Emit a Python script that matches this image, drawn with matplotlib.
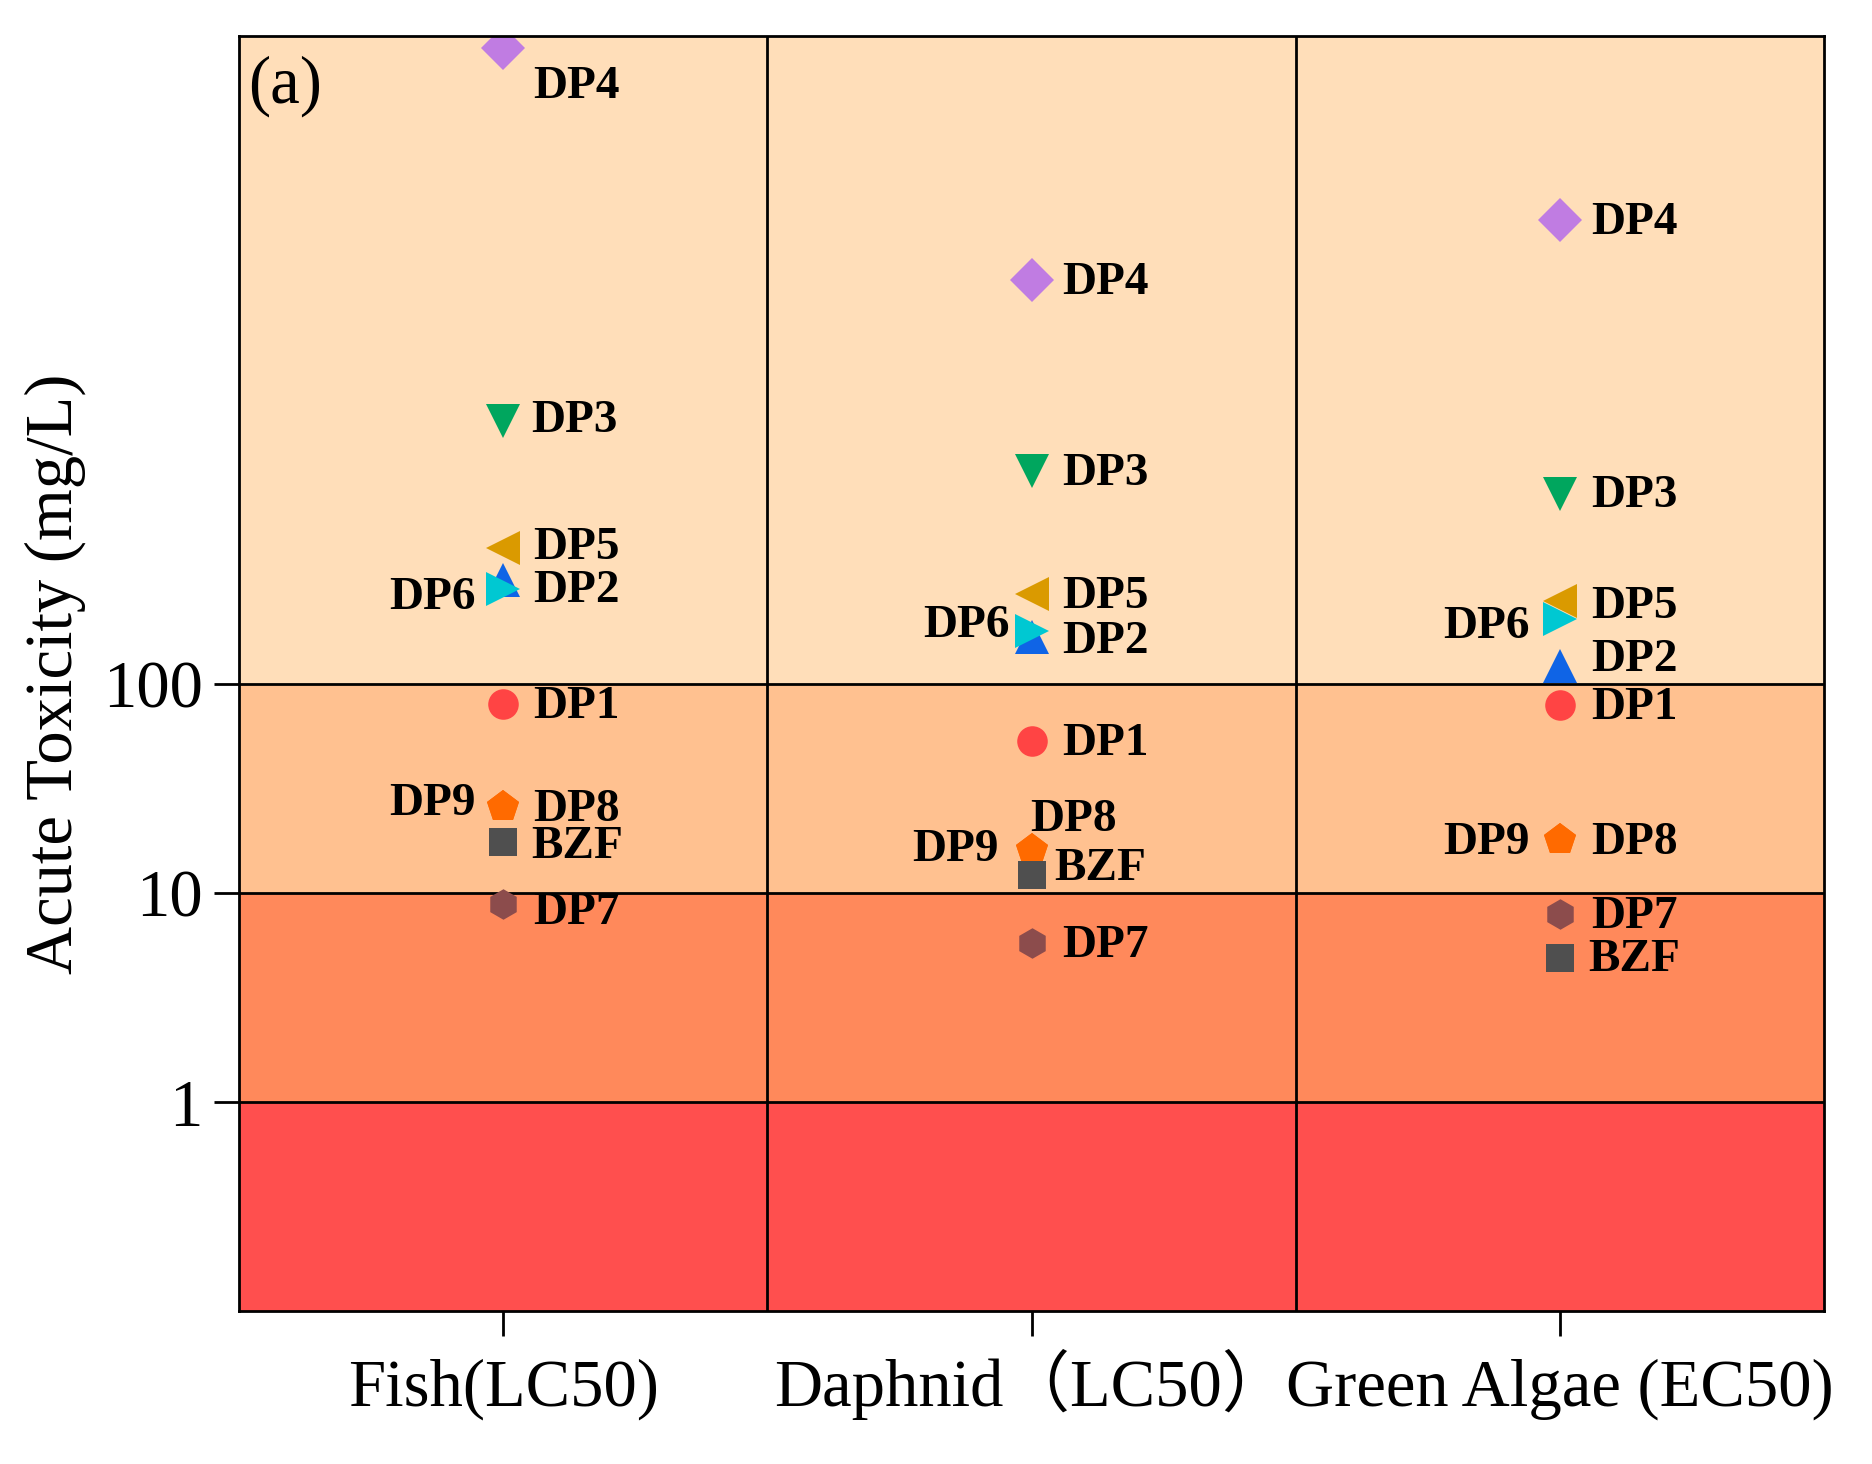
import numpy as np
import matplotlib.pyplot as plt

plt.rcParams['font.family'] = ['Liberation Serif', 'Noto Sans CJK SC', 'DejaVu Sans']

# --- data ---
categories = ['Fish(LC50)', 'Daphnid\uff08LC50\uff09', 'Green Algae (EC50)']
compounds = ['DP1', 'DP2', 'DP3', 'DP4', 'DP5', 'DP6', 'DP7', 'DP8', 'DP9', 'BZF']
# acute toxicity values (mg/L) for fish, daphnid, green algae
dp1 = [80, 53, 79]
dp2 = [314, 168, 122]
dp3 = [1800, 1040, 811]
dp4 = [110000, 8530, 16500]
dp5 = [448, 268, 248]
dp6 = [283, 178, 204]
dp7 = [8.8, 5.75, 7.9]
dp8 = [25.8, 16, 17.8]
dp9 = [25.8, 16, 17.8]
bzf = [17.6, 12.2, 4.9]
values = [dp1, dp2, dp3, dp4, dp5, dp6, dp7, dp8, dp9, bzf]

band_edges = [0.1, 1, 10, 100, 1.25e5]
band_colors = ['#FF4F4E', '#FF895B', '#FFC190', '#FFDEB9']

markers = ['o', '^', 'v', 'D', '<', '>', 'h', 'p', 'p', 's']
colors = ['#FF4444', '#0F64E6', '#00A65E', '#C07CE2', '#DA9A00',
          '#00C8D2', '#8C4C4C', '#FF6A00', '#FF6A00', '#4F4F4F']
sizes = [11, 12, 12, 11, 12, 12, 11, 12, 12, 10]

# label offsets in points: (dx, dy, ha); default to the right of the marker
label_offsets = {
    (0, 'DP4'): (11, -14, 'left'),
    (0, 'DP6'): (-10, -3, 'right'),
    (0, 'DP2'): (11, -4, 'left'),
    (0, 'DP5'): (11, 0, 'left'),
    (0, 'DP9'): (-10, 1, 'right'),
    (0, 'DP8'): (11, -1, 'left'),
    (0, 'BZF'): (10, -2, 'left'),
    (0, 'DP7'): (11, -3, 'left'),
    (0, 'DP3'): (10, 0, 'left'),
    (1, 'DP6'): (-8, 2, 'right'),
    (1, 'DP2'): (11, -2, 'left'),
    (1, 'DP8'): (-0.5, 11, 'left'),
    (1, 'DP9'): (-12, 0, 'right'),
    (1, 'BZF'): (8, 2, 'left'),
    (2, 'DP6'): (-11, -3, 'right'),
    (2, 'DP2'): (11, 2, 'left'),
    (2, 'DP9'): (-11, -1, 'right'),
    (2, 'DP5'): (11, -2, 'left'),
    (2, 'BZF'): (10, -1, 'left'),
}

fig = plt.figure(figsize=(9.36, 7.32), dpi=200)
ax = fig.add_axes([0.1276, 0.1044, 0.847, 0.871])
ax.set_yscale('log')
ax.set_xlim(-0.5, 2.5)
ax.set_ylim(band_edges[0], band_edges[-1])

# hazard bands
for lo, hi, c in zip(band_edges[:-1], band_edges[1:], band_colors):
    ax.axhspan(lo, hi, color=c, lw=0, zorder=0)
for y in band_edges[1:-1]:
    ax.axhline(y, color='black', lw=1.0, zorder=1)
for x in [0.5, 1.5]:
    ax.axvline(x, color='black', lw=1.0, zorder=1)

xpos = np.arange(len(categories))
for name, vals, m, c, s in zip(compounds, values, markers, colors, sizes):
    ax.plot(xpos, vals, linestyle='none', marker=m, color=c, ms=s,
            markeredgewidth=0, zorder=3)
    for i, v in enumerate(vals):
        dx, dy, ha = label_offsets.get((i, name), (11, -1, 'left'))
        ax.annotate(name, (xpos[i], v), xytext=(dx, dy), textcoords='offset points',
                    ha=ha, va='center', fontsize=17, fontweight='bold', zorder=4)

ax.text(0.006, 0.985, '(a)', transform=ax.transAxes, ha='left', va='top', fontsize=24)

ax.set_xticks(xpos)
ax.set_xticklabels(categories, fontsize=24)
ax.set_yticks([1, 10, 100])
ax.set_yticklabels(['1', '10', '100'], fontsize=24)
ax.yaxis.set_minor_locator(plt.NullLocator())
ax.tick_params(axis='both', which='major', direction='out', length=9, width=1.0, pad=4)
# put every category name on a common baseline (the CJK brackets are taller)
ax.tick_params(axis='x', pad=25)
for lab in ax.get_xticklabels():
    lab.set_verticalalignment('baseline')
ax.set_ylabel('Acute Toxicity (mg/L)', fontsize=24, labelpad=6)

for spine in ax.spines.values():
    spine.set_linewidth(1.0)
    spine.set_zorder(5)

fig.savefig('out.png', dpi=200)
